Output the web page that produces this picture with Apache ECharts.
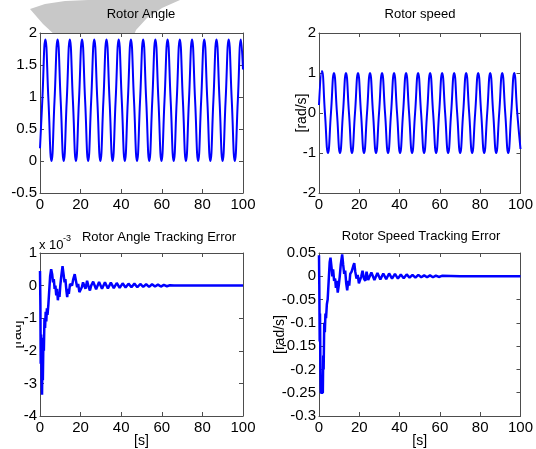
<!DOCTYPE html>
<html>
<head>
<meta charset="utf-8">
<script src="https://cdn.jsdelivr.net/npm/echarts@6/dist/echarts.min.js"></script>
<style>
html, body { margin: 0; padding: 0; background: #fff; }
#chart { width: 536px; height: 449px; }
</style>
</head>
<body>
<div id="chart"></div>
<script>
// Rotor angle: sampled at troughs, mid-swings and peaks
const angleTime = [0, 1.14, 2.65,
  4.16, 5.66, 7.16, 8.67, 10.18, 11.68, 13.18, 14.69, 16.2, 17.7, 19.2, 20.71,
  22.22, 23.72, 25.22, 26.73, 28.24, 29.74, 31.24, 32.75, 34.26, 35.76, 37.26, 38.77,
  40.28, 41.78, 43.28, 44.79, 46.3, 47.8, 49.3, 50.81, 52.32, 53.82, 55.32, 56.83,
  58.34, 59.84, 61.34, 62.85, 64.36, 65.86, 67.36, 68.87, 70.38, 71.88, 73.38, 74.89,
  76.4, 77.9, 79.4, 80.91, 82.42, 83.92, 85.42, 86.93, 88.44, 89.94, 91.44, 92.95,
  94.46, 95.96, 97.46, 98.97, 100];
const angleValue = [0.2, 0.95, 1.9,
  0.95, 0, 0.95, 1.9, 0.95, 0, 0.95, 1.9, 0.95, 0, 0.95, 1.9,
  0.95, 0, 0.95, 1.9, 0.95, 0, 0.95, 1.9, 0.95, 0, 0.95, 1.9,
  0.95, 0, 0.95, 1.9, 0.95, 0, 0.95, 1.9, 0.95, 0, 0.95, 1.9,
  0.95, 0, 0.95, 1.9, 0.95, 0, 0.95, 1.9, 0.95, 0, 0.95, 1.9,
  0.95, 0, 0.95, 1.9, 0.95, 0, 0.95, 1.9, 0.95, 0, 0.95, 1.9,
  0.95, 0, 0.95, 1.9, 1.43];

// Rotor speed [rad/s]
const speedTime = [0, 1.46,
  2.95, 4.44, 5.93, 7.43, 8.92, 10.41, 11.9, 13.39, 14.88, 16.37, 17.86, 19.36,
  20.85, 22.34, 23.83, 25.32, 26.81, 28.3, 29.79, 31.29, 32.78, 34.27, 35.76, 37.25,
  38.74, 40.23, 41.72, 43.22, 44.71, 46.2, 47.69, 49.18, 50.67, 52.16, 53.65, 55.15,
  56.64, 58.13, 59.62, 61.11, 62.6, 64.09, 65.58, 67.08, 68.57, 70.06, 71.55, 73.04,
  74.53, 76.02, 77.51, 79.01, 80.5, 81.99, 83.48, 84.97, 86.46, 87.95, 89.44, 90.94,
  92.43, 93.92, 95.41, 96.9, 98.39, 100];
const speedValue = [0.2, 1.05,
  0, -1, 0, 1, 0, -1, 0, 1, 0, -1, 0, 1,
  0, -1, 0, 1, 0, -1, 0, 1, 0, -1, 0, 1,
  0, -1, 0, 1, 0, -1, 0, 1, 0, -1, 0, 1,
  0, -1, 0, 1, 0, -1, 0, 1, 0, -1, 0, 1,
  0, -1, 0, 1, 0, -1, 0, 1, 0, -1, 0, 1,
  0, -1, 0, 1, 0, -0.9];

// Rotor angle tracking error, in units of 1e-3 rad
const angleErrTime = [0, 0.2, 0.35, 0.55, 0.8, 1.0, 1.2, 1.4, 1.7, 1.9, 2.2, 2.5, 2.8, 3.1,
  3.4, 3.7, 4.1, 4.5, 5.0, 5.5, 6.0, 6.4, 6.8, 7.2, 7.6, 8.0, 8.4, 8.8, 9.2, 9.6, 10.0,
  10.5, 11.1, 11.6, 12.1, 12.5, 13.0, 13.4, 13.8, 14.2, 14.8, 15.3, 15.8, 16.4, 17.1,
  17.7, 18.3, 18.8, 19.4, 20.0, 20.6, 21.2, 21.8, 22.4, 23.2, 24.0, 24.6, 25.2, 26.2,
  27.65, 29.1, 30.55, 32.0, 33.45, 34.9, 36.35, 37.8, 39.25, 40.7, 42.15, 43.6, 45.05,
  46.5, 47.95, 49.4, 50.85, 52.3, 53.75, 55.2, 56.65, 58.1, 59.55, 61, 62.5, 64, 66, 100];
const angleErrValue = [0.45, -0.6, -2.4, -1.5, -2.9, -3.35, -2.2, -2.9, -1.6, -2.0, -1.0, -1.3, -0.8, -1.1,
  -0.7, -0.9, -0.6, -0.2, 0.3, 0.5, 0.35, 0.1, 0.2, -0.1, 0.0, -0.3, -0.1, -0.45, -0.2, -0.35, 0.0,
  0.3, 0.6, 0.35, 0.1, 0.2, -0.15, -0.35, -0.1, -0.25, 0.05, 0.1, 0.0, 0.2, 0.35,
  0.15, -0.05, 0.05, -0.2, -0.25, -0.05, 0.1, 0.0, -0.1, 0.15, -0.05, -0.15, 0.0, 0.12,
  -0.11, 0.11, -0.1, 0.1, -0.09, 0.09, -0.08, 0.08, -0.07, 0.07, -0.06, 0.06, -0.05,
  0.06, -0.05, 0.05, -0.04, 0.04, -0.04, 0.04, -0.03, 0.03, -0.03, 0.02, -0.02, 0.01, 0, 0];

// Rotor speed tracking error [rad/s]
const speedErrTime = [0, 0.15, 0.35, 0.5, 0.7, 0.9, 1.9, 2.1, 2.3, 2.6, 2.9, 3.2, 3.5, 3.9,
  4.3, 4.8, 5.3, 5.7, 6.2, 6.6, 7.0, 7.5, 8.0, 8.4, 8.8, 9.3, 9.8, 10.3, 10.8, 11.5,
  12.0, 12.5, 13.0, 13.5, 14.0, 14.5, 15.0, 15.5, 16.2, 17.0, 17.5, 18.0, 18.6, 19.2,
  19.8, 20.3, 21.0, 21.6, 22.3, 23.0, 23.6, 24.4, 25.2, 26.0, 27.5, 29.0, 30.45, 31.9,
  33.35, 34.8, 36.25, 37.7, 39.15, 40.6, 42.05, 43.5, 44.95, 46.4, 47.85, 49.3, 50.75,
  52.2, 53.65, 55.1, 56.55, 58, 59.45, 61, 70, 100];
const speedErrValue = [0.045, -0.02, -0.14, -0.08, -0.2, -0.25, -0.25, -0.17, -0.2, -0.1, -0.12, -0.08, -0.09, -0.06,
  -0.05, -0.01, 0.03, 0.04, 0.02, 0.0, 0.015, -0.01, -0.005, -0.025, -0.01, -0.035, -0.02, 0.0, 0.025, 0.047,
  0.025, 0.005, 0.012, -0.015, -0.03, -0.01, -0.02, 0.005, 0.01, 0.022, 0.028, 0.01, -0.005, 0.003,
  -0.015, -0.018, 0.0, 0.012, -0.005, -0.01, 0.01, -0.008, -0.01, 0.008, -0.008, 0.007, -0.007, 0.006,
  -0.006, 0.006, -0.005, 0.005, -0.005, 0.004, -0.004, 0.004, -0.003, 0.003, -0.003, 0.003, -0.002,
  0.002, -0.002, 0.002, -0.002, 0.0015, -0.0015, 0.001, 0, 0];

// Axis ticks
const timeTicks = { min: 0, max: 100, interval: 20 };
const angleTicks = { min: -0.5, max: 2, interval: 0.5 };
const speedTicks = { min: -2, max: 2, interval: 1 };
const angleErrTicks = { min: -4, max: 1, interval: 1 };
const speedErrTicks = { min: -0.3, max: 0.05, interval: 0.05 };

const titles = ['Rotor Angle', 'Rotor speed', 'Rotor Angle Tracking Error', 'Rotor Speed Tracking Error'];

const FONT = 'Liberation Sans, Arial, Helvetica, sans-serif';
const FRAME = '#4d4d4d';
const BLUE = '#0000ff';
const TICK_FONT = 15;

const grids = [
  { left: 40, top: 33, width: 203, height: 160 },
  { left: 319, top: 33, width: 205, height: 160 },
  { left: 40, top: 253, width: 203, height: 163 },
  { left: 319, top: 253, width: 205, height: 163 }
].map(g => Object.assign({ show: true, backgroundColor: '#fff', borderWidth: 0 }, g));

function pairs(ts, vs) { return ts.map((t, i) => [t, vs[i]]); }

function xAxes(gi, name) {
  const base = {
    type: 'value', gridIndex: gi, min: timeTicks.min, max: timeTicks.max, interval: timeTicks.interval,
    splitLine: { show: false },
    axisLine: { show: true, onZero: false, lineStyle: { color: FRAME, width: 1 } },
    axisTick: { show: true, inside: true, length: 4, lineStyle: { color: FRAME } }
  };
  return [
    Object.assign({}, base, {
      position: 'bottom',
      axisLabel: { color: '#000', fontSize: TICK_FONT, fontFamily: FONT, margin: 4 },
      name: name || '', nameLocation: 'middle', nameGap: 18, nameMoveOverlap: false,
      nameTextStyle: { color: '#000', fontSize: 14, fontFamily: FONT, verticalAlign: 'top' }
    }),
    Object.assign({}, base, { position: 'top', axisLabel: { show: false } })
  ];
}

function yAxes(gi, ticks, name, gap) {
  const base = {
    type: 'value', gridIndex: gi, min: ticks.min, max: ticks.max, interval: ticks.interval,
    splitLine: { show: false },
    axisLine: { show: true, onZero: false, lineStyle: { color: FRAME, width: 1 } },
    axisTick: { show: true, inside: true, length: 4, lineStyle: { color: FRAME } }
  };
  return [
    Object.assign({}, base, {
      position: 'left',
      axisLabel: { color: '#000', fontSize: TICK_FONT, fontFamily: FONT, margin: 3 },
      name: name || '', nameLocation: 'middle', nameGap: gap || 0, nameRotate: 90,
      nameMoveOverlap: false,
      nameTextStyle: { color: '#000', fontSize: 14, fontFamily: FONT }
    }),
    Object.assign({}, base, { position: 'right', axisLabel: { show: false } })
  ];
}

const xAxis = [].concat(xAxes(0), xAxes(1), xAxes(2, '[s]'), xAxes(3, '[s]'));
const yAxis = [].concat(
  yAxes(0, angleTicks),
  yAxes(1, speedTicks, '[rad/s]', 10),
  yAxes(2, angleErrTicks, '[rad]', 16),
  yAxes(3, speedErrTicks, '[rad/s]', 32)
);

function lineSeries(gi, data, width, smooth) {
  return {
    type: 'line', xAxisIndex: gi * 2, yAxisIndex: gi * 2, data: data,
    showSymbol: false, smooth: smooth, animation: false,
    lineStyle: { color: BLUE, width: width }
  };
}

const titleStyle = { color: '#000', fontSize: 13, fontFamily: FONT, fontWeight: 'normal' };

const option = {
  backgroundColor: '#fff',
  animation: false,
  title: [
    { text: titles[0], left: 141, top: 8, textAlign: 'center', textStyle: titleStyle, padding: 0 },
    { text: titles[1], left: 420, top: 8, textAlign: 'center', textStyle: titleStyle, padding: 0 },
    { text: titles[2], left: 159, top: 231, textAlign: 'center', textStyle: titleStyle, padding: 0 },
    { text: titles[3], left: 421, top: 230, textAlign: 'center', textStyle: titleStyle, padding: 0 }
  ],
  grid: grids,
  xAxis: xAxis,
  yAxis: yAxis,
  series: [
    lineSeries(0, pairs(angleTime, angleValue), 2, 0.5),
    lineSeries(1, pairs(speedTime, speedValue), 2, 0.5),
    lineSeries(2, pairs(angleErrTime, angleErrValue), 2.5, false),
    lineSeries(3, pairs(speedErrTime, speedErrValue), 2.5, false)
  ],
  graphic: [
    {
      type: 'polygon', z: -10,
      shape: { points: [[30, 9], [45, 4], [65, 1], [88, 0], [180, 0], [162, 8], [147, 18], [136, 30], [130, 45], [72, 45], [56, 36], [43, 24]] },
      style: { fill: '#c8c8c8' }
    },
    {
      type: 'rect', z: 100,
      shape: { x: 0, y: 312, width: 16, height: 40 },
      style: { fill: '#fff' }
    },
    {
      type: 'text', z: 100, left: 39, top: 239,
      style: { text: 'x 10', fontSize: 13, fontFamily: FONT, fill: '#000' }
    },
    {
      type: 'text', z: 100, left: 63, top: 234,
      style: { text: '-3', fontSize: 9, fontFamily: FONT, fill: '#000' }
    }
  ]
};

const chart = echarts.init(document.getElementById('chart'), null, { renderer: 'canvas' });
chart.setOption(option);
</script>
</body>
</html>
